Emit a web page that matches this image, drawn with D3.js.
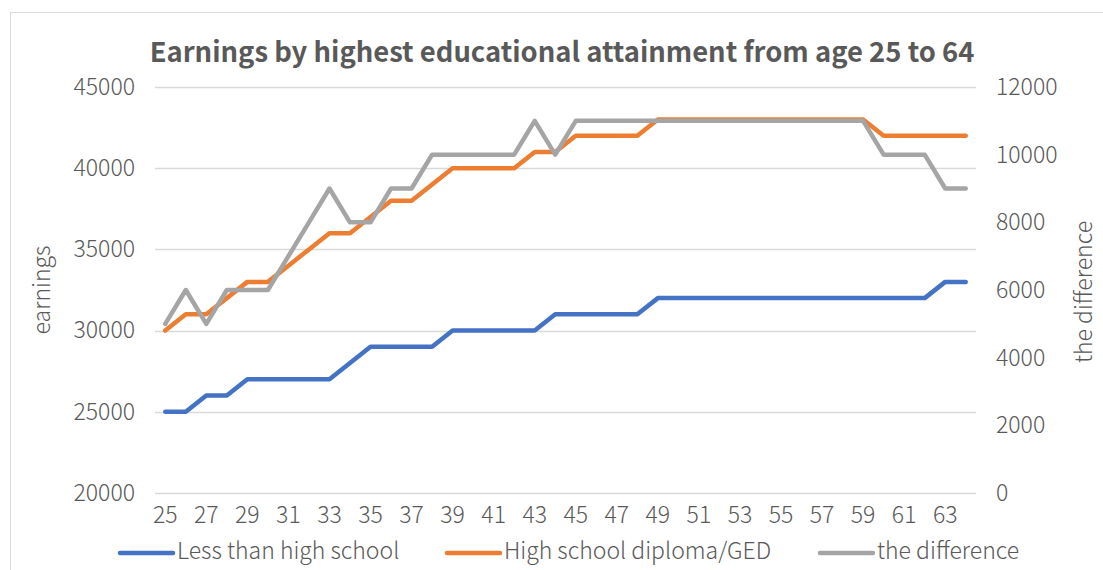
<!DOCTYPE html>
<html>
<head>
<meta charset="utf-8">
<script src="https://cdn.jsdelivr.net/npm/d3@7"></script>
<style>
  html, body { margin: 0; padding: 0; background: #fff; }
  svg { display: block; }
  text { font-family: "Noto Sans CJK SC", "Noto Sans", sans-serif; fill: #595959; }
</style>
</head>
<body>
<svg id="chart" width="1103" height="570"></svg>
<script>
// Ages along the category axis
const ages = d3.range(25, 65);
// Annual earnings by age, left axis
const lessThanHighSchool = [
  25000, 25000, 26000, 26000, 27000, 27000, 27000, 27000, 27000, 28000,
  29000, 29000, 29000, 29000, 30000, 30000, 30000, 30000, 30000, 31000,
  31000, 31000, 31000, 31000, 32000, 32000, 32000, 32000, 32000, 32000,
  32000, 32000, 32000, 32000, 32000, 32000, 32000, 32000, 33000, 33000
];
const highSchoolDiploma = [
  30000, 31000, 31000, 32000, 33000, 33000, 34000, 35000, 36000, 36000,
  37000, 38000, 38000, 39000, 40000, 40000, 40000, 40000, 41000, 41000,
  42000, 42000, 42000, 42000, 43000, 43000, 43000, 43000, 43000, 43000,
  43000, 43000, 43000, 43000, 43000, 42000, 42000, 42000, 42000, 42000
];
// Gap between the two, right axis
const difference = [
  5000, 6000, 5000, 6000, 6000, 6000, 7000, 8000, 9000, 8000,
  8000, 9000, 9000, 10000, 10000, 10000, 10000, 10000, 11000, 10000,
  11000, 11000, 11000, 11000, 11000, 11000, 11000, 11000, 11000, 11000,
  11000, 11000, 11000, 11000, 11000, 10000, 10000, 10000, 9000, 9000
];
const leftTicks = [20000, 25000, 30000, 35000, 40000, 45000];
const rightTicks = [0, 2000, 4000, 6000, 8000, 10000, 12000];
const xTickLabels = ages.filter(a => a % 2 === 1);

const seriesList = [
  { name: "Less than high school", values: lessThanHighSchool, color: "#4472C4", axis: "left" },
  { name: "High school diploma/GED", values: highSchoolDiploma, color: "#ED7D31", axis: "left" },
  { name: "the difference", values: difference, color: "#A5A5A5", axis: "right" }
];

const svg = d3.select("#chart");
const plot = { left: 155, right: 976, top: 87, bottom: 493 };
const labelSize = 23;

// Chart frame
svg.append("rect")
  .attr("x", 10.5).attr("y", 12.5)
  .attr("width", 1110).attr("height", 600)
  .attr("fill", "#fff").attr("stroke", "#D9D9D9").attr("stroke-width", 1);

const x = d3.scaleBand().domain(ages).range([plot.left, plot.right]).padding(0);
const yLeft = d3.scaleLinear().domain([20000, 45000]).range([plot.bottom, plot.top]);
const yRight = d3.scaleLinear().domain([0, 12000]).range([plot.bottom, plot.top]);
const cx = a => x(a) + x.bandwidth() / 2;

// Horizontal gridlines
svg.append("g").selectAll("line").data(leftTicks).join("line")
  .attr("x1", plot.left).attr("x2", plot.right)
  .attr("y1", d => Math.round(yLeft(d)) + 0.5).attr("y2", d => Math.round(yLeft(d)) + 0.5)
  .attr("stroke", "#D9D9D9").attr("stroke-width", 1.3);

function styleTicks(g) {
  g.select(".domain").remove();
  g.selectAll("text").attr("font-size", labelSize).attr("font-weight", 300)
    .attr("fill", "#595959").style("font-family", '"Noto Sans CJK SC", sans-serif');
}

// Left axis labels
const leftAxis = d3.axisLeft(yLeft).tickValues(leftTicks).tickSize(0).tickPadding(20).tickFormat(d3.format("d"));
svg.append("g").attr("transform", `translate(${plot.left},0)`).call(leftAxis).call(styleTicks);

// Right axis labels
const rightAxis = d3.axisRight(yRight).tickValues(rightTicks).tickSize(0).tickPadding(20).tickFormat(d3.format("d"));
svg.append("g").attr("transform", `translate(${plot.right},0)`).call(rightAxis).call(styleTicks);

// Category axis labels
const bottomAxis = d3.axisBottom(x).tickValues(xTickLabels).tickSize(0).tickPadding(14);
svg.append("g").attr("transform", `translate(0,${plot.bottom})`).call(bottomAxis).call(styleTicks);

// Series lines
const lineFor = s => d3.line()
  .x((d, i) => cx(ages[i]))
  .y(d => (s.axis === "left" ? yLeft : yRight)(d));

svg.append("g").selectAll("path").data(seriesList).join("path")
  .attr("d", s => lineFor(s)(s.values))
  .attr("fill", "none")
  .attr("stroke", s => s.color)
  .attr("stroke-width", 4.5)
  .attr("stroke-linecap", "round")
  .attr("stroke-linejoin", "round");

// Title
svg.append("text")
  .attr("x", 562).attr("y", 61.5)
  .attr("text-anchor", "middle")
  .attr("font-size", 27.4).attr("font-weight", 700)
  .text("Earnings by highest educational attainment from age 25 to 64");

// Axis titles
svg.append("text")
  .attr("transform", "translate(44,290) rotate(-90)")
  .attr("text-anchor", "middle").attr("dominant-baseline", "middle")
  .attr("font-size", labelSize).attr("font-weight", 300)
  .text("earnings");
svg.append("text")
  .attr("transform", "translate(1086,292) rotate(-90)")
  .attr("text-anchor", "middle").attr("dominant-baseline", "middle")
  .attr("font-size", labelSize).attr("font-weight", 300)
  .text("the difference");

// Legend
const legendX = [120, 447, 820];
const legend = svg.append("g").selectAll("g").data(seriesList).join("g")
  .attr("transform", (d, i) => `translate(${legendX[i]},553)`);
legend.append("line")
  .attr("x1", 0).attr("x2", 53).attr("y1", 0).attr("y2", 0)
  .attr("stroke", d => d.color).attr("stroke-width", 4.5).attr("stroke-linecap", "round");
legend.append("text")
  .attr("x", 57).attr("y", 0).attr("dominant-baseline", "middle")
  .attr("font-size", labelSize).attr("font-weight", 300)
  .text(d => d.name);
</script>
</body>
</html>
